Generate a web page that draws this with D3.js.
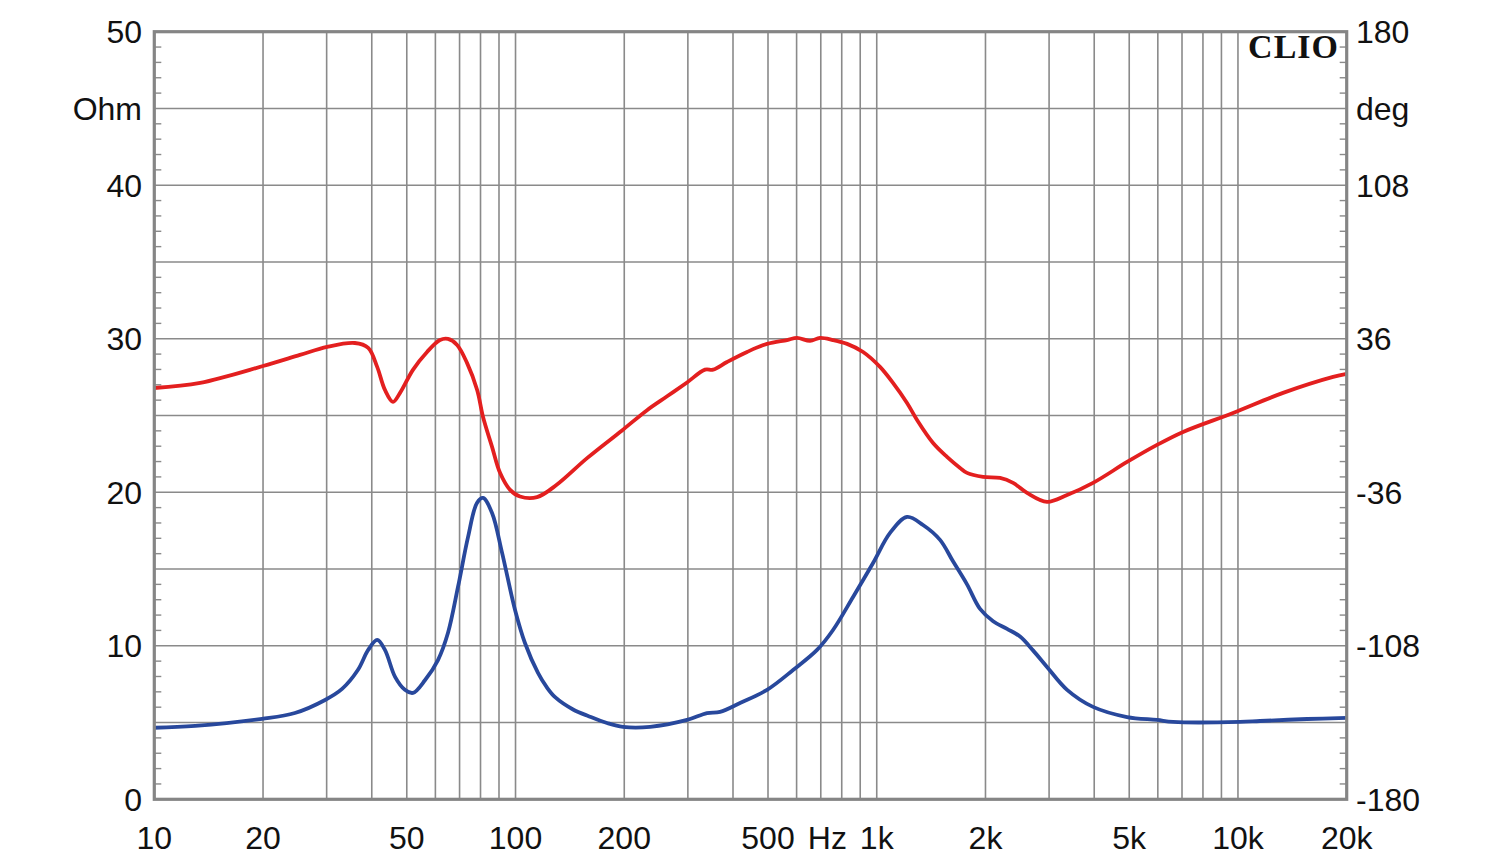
<!DOCTYPE html>
<html>
<head>
<meta charset="utf-8">
<script src="https://cdn.jsdelivr.net/npm/d3@7"></script>
<style>
html,body{margin:0;padding:0;background:#fff;}
svg{display:block;}
text{font-family:"Liberation Sans",Arial,sans-serif;fill:#111;}
</style>
</head>
<body>
<svg id="chart" width="1500" height="864"></svg>
<script>
// Impedance magnitude (Ohm) — blue
const impFreq = [10,12.98,19.87,24.5,29.7,33.1,36.6,39.1,41.4,43.5,46.4,49.4,52.0,56.2,61.0,65.0,69.3,73.9,78.2,81.3,86.1,91.8,99.7,106.2,115.4,122,128.7,144.3,160,179.2,198.4,235.8,298.4,339.0,368.3,418.4,497.0,586.6,683.5,756.8,859.9,976.8,1088.6,1213,1343,1497,1626,1778,1932,2100,2295,2493,2708,2961,3365,3970,4932,5970,6613,10130,11510,15540,20000];
const impOhm  = [4.66,4.78,5.24,5.62,6.47,7.19,8.42,9.73,10.38,9.73,7.97,7.13,6.93,7.77,9.07,10.83,13.83,17.09,19.30,19.63,18.65,16.05,12.33,10.18,8.23,7.3,6.65,5.85,5.4,4.97,4.72,4.72,5.17,5.62,5.69,6.27,7.13,8.42,9.73,11.03,13.18,15.39,17.35,18.39,17.87,16.9,15.5,14.0,12.4,11.6,11.1,10.6,9.7,8.62,7.13,6.02,5.36,5.17,5.04,5.04,5.10,5.23,5.30];

// Phase (deg) — red
const phaseFreq = [10,13.4,20,25.3,30.1,35.9,39.1,41.4,43.5,45.8,47.9,52.0,56.9,61.8,65.0,68.9,73.4,78.3,81.3,86.1,90.6,96.6,102.9,114.7,130,157.8,197.2,231.3,262.8,298.4,334.7,352.3,385.1,437.5,497.0,564.7,601.7,653.8,696.6,756.8,827.7,916.7,1021,1109,1213,1293,1432,1565,1701,1778,1970,2195,2385,2607,2961,3365,3970,4932,5970,7047,9692,13330,18340,20000];
const phaseDeg  = [12.9,15.3,23.2,28.4,32.2,34.0,31.7,22.8,12.0,6.4,10.6,21.4,29.8,35.4,35.9,33.1,24.7,12.0,-0.7,-14.7,-26.9,-34.9,-38.0,-38.3,-32.5,-20.0,-7.0,2.5,9.0,15.5,21.5,21.5,25.1,29.8,33.6,35.4,36.4,35.0,36.4,35.4,33.6,29.8,22.8,15.3,5.9,-2.1,-12.9,-19.4,-24.6,-26.9,-28.8,-29.3,-31.6,-36.3,-40.5,-37.3,-31.6,-21.8,-13.8,-7.7,1.2,10.6,18.1,19.5];

// Axis tick labels
const xTickVals   = [10,20,50,100,200,500,730,1000,2000,5000,10000,20000];
const xTickLabels = ["10","20","50","100","200","500","Hz","1k","2k","5k","10k","20k"];
const yLeftVals   = [0,10,20,30,40,45,50];
const yLeftLabels = ["0","10","20","30","40","Ohm","50"];
const yRightVals   = [-180,-108,-36,36,108,144,180];
const yRightLabels = ["-180","-108","-36","36","108","deg","180"];

const L = 154.3, R = 1346.7, T = 31.7, B = 799.3;
const svg = d3.select("#chart");

const x = d3.scaleLog().domain([10,20000]).range([L,R]);
const yL = d3.scaleLinear().domain([0,50]).range([B,T]);
const yR = d3.scaleLinear().domain([-180,180]).range([B,T]);

const gridColor = "#8a8a8a";

// vertical grid
const vgrid = [];
[10,100,1000,10000].forEach(d => { for (let m=1;m<=9;m++){ const v=d*m; if (v>10 && v<20000) vgrid.push(v);} });
svg.append("g").selectAll("line").data(vgrid).join("line")
  .attr("x1",d=>x(d)).attr("x2",d=>x(d)).attr("y1",T).attr("y2",B)
  .attr("stroke",gridColor).attr("stroke-width",1.6);

// horizontal grid every 5 Ohm
const hgrid = d3.range(5,50,5);
svg.append("g").selectAll("line").data(hgrid).join("line")
  .attr("x1",L).attr("x2",R).attr("y1",d=>yL(d)).attr("y2",d=>yL(d))
  .attr("stroke",gridColor).attr("stroke-width",1.6);

// minor ticks every 1 Ohm, inside, both sides
const minor = d3.range(1,50).filter(d=>d%5!==0);
svg.append("g").selectAll("line").data(minor).join("line")
  .attr("x1",L).attr("x2",L+7).attr("y1",d=>yL(d)).attr("y2",d=>yL(d))
  .attr("stroke",gridColor).attr("stroke-width",1.4);
svg.append("g").selectAll("line").data(minor).join("line")
  .attr("x1",R-7).attr("x2",R).attr("y1",d=>yL(d)).attr("y2",d=>yL(d))
  .attr("stroke",gridColor).attr("stroke-width",1.4);

// curves
const phaseData = phaseFreq.map((f,i)=>[f,phaseDeg[i]]);
const impData = impFreq.map((f,i)=>[f,impOhm[i]]);

svg.append("path").datum(phaseData)
  .attr("fill","none").attr("stroke","#e31f1f").attr("stroke-width",3.8)
  .attr("stroke-linejoin","round")
  .attr("d", d3.line().x(d=>x(d[0])).y(d=>yR(d[1])).curve(d3.curveCatmullRom.alpha(0.5)));

svg.append("path").datum(impData)
  .attr("fill","none").attr("stroke","#28489c").attr("stroke-width",3.8)
  .attr("stroke-linejoin","round")
  .attr("d", d3.line().x(d=>x(d[0])).y(d=>yL(d[1])).curve(d3.curveCatmullRom.alpha(0.5)));

// frame
svg.append("rect").attr("x",L).attr("y",T).attr("width",R-L).attr("height",B-T)
  .attr("fill","none").attr("stroke","#858585").attr("stroke-width",3.2);

// left labels
svg.append("g").selectAll("text").data(yLeftVals).join("text")
  .attr("x",142).attr("y",d=>yL(d)).attr("dy","0.36em")
  .attr("text-anchor","end").attr("font-size",32)
  .text((d,i)=>yLeftLabels[i]);

// right labels
svg.append("g").selectAll("text").data(yRightVals).join("text")
  .attr("x",1356).attr("y",d=>yR(d)).attr("dy","0.36em")
  .attr("text-anchor","start").attr("font-size",32)
  .text((d,i)=>yRightLabels[i]);

// bottom labels
svg.append("g").selectAll("text").data(xTickVals).join("text")
  .attr("x",d=>x(d)).attr("y",849)
  .attr("text-anchor","middle").attr("font-size",32)
  .text((d,i)=>xTickLabels[i]);

// CLIO watermark
svg.append("text").attr("x",1339).attr("y",58).attr("text-anchor","end")
  .style("font-family","'Liberation Serif','Times New Roman',serif")
  .style("font-weight","bold").style("letter-spacing","1px").attr("font-size",34).text("CLIO");
</script>
</body>
</html>
